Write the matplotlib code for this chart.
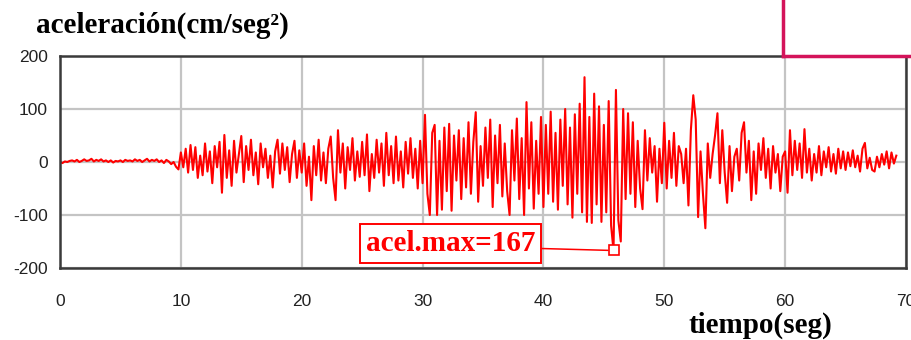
import numpy as np
import matplotlib
matplotlib.use("Agg")
import matplotlib.pyplot as plt
from matplotlib.lines import Line2D

plt.rcParams["axes.unicode_minus"] = False

# acelerograma, una muestra cada 0.2 seg
dt = 0.2
acel_00_10 = [0, -2, 1, 0, 2, 3, 1, 4, 0, 2, 5, 2, 3, 6, 1, 4, 2, 5, 1, 3,
              0, 3, -1, 2, 1, 3, 0, 4, 2, 3, 1, 5, 2, 4, 0, 3, 6, 1, 4, 2,
              5, 0, 3, -2, 4, 1, -4, 0, -9, -14]
acel_10_20 = [18, -10, 25, -20, 32, -15, 28, -30, 12, -25, 35, -18, 20, -40, 30,
              -10, 38, -58, 51, -30, 22, -45, 40, -20, 15, 49, -38, 30, -15, 42,
              -25, 18, -42, 35, -10, 25, -30, 12, -48, 20, 42, -22, 35, -15, 28,
              -38, 15, 40, -30, 22]
acel_20_30 = [-20, 35, -45, 10, -72, 30, -25, 42, -35, 18, -40, 25, 48, -30, -72,
              60, -20, 35, -50, 28, -15, 45, -35, 20, -28, 38, -25, 52, -55, 15,
              -30, 42, -20, 35, -45, 55, -25, 30, -40, 48, -35, 20, -48, 38, -22,
              45, -30, 25, -50, 40]
acel_30_40 = [-40, 89, -60, -100, 55, 70, -100, 40, -90, 65, -55, 72, -92, 50, -35,
              60, -70, 45, -48, 75, -60, 38, 94, -75, 30, -45, 65, -30, 80, -85,
              50, -40, 70, -65, 35, -55, -100, 60, -35, 82, -70, 45, -100, 113, -50,
              75, -88, 40, -60, 85]
acel_40_50 = [-85, 70, -60, 95, -75, 55, -90, 80, -45, 100, -80, 65, -105, 90, -60,
              110, -95, 160, -113, 85, -115, 129, -80, 105, -113, 70, -95, 115, -120, -167,
              136, -110, -150, 100, -70, 92, -60, 75, -85, 40, -50, -89, 60, -35, 45,
              -20, 30, -75, 25, -40]
acel_50_60 = [74, -50, 40, -30, 55, -45, 30, 15, -40, 25, -82, 60, 126, 80, -104,
              20, -60, -125, 35, -30, 15, 50, 92, -40, 60, -20, -77, 30, -55, 10,
              25, -35, 55, 75, -20, 40, -72, 20, -60, 35, -15, 45, -30, 25, -50,
              30, -20, 15, -55, 10]
acel_60_70 = [20, -58, 60, -25, 40, -15, 35, -30, 62, -20, 25, -35, 15, -20, 30,
              -25, 20, -10, 28, -18, 15, -22, 25, -12, 20, -15, 18, -8, 22, -10,
              12, -18, 25, 36, -12, 8, -15, -18, 10, -10, 15, -5, 20, -12, 18,
              -3, 12]

acel = np.array(acel_00_10 + acel_10_20 + acel_20_30 + acel_30_40
                + acel_40_50 + acel_50_60 + acel_60_70, dtype=float)
tiempo = np.arange(len(acel)) * dt

xticks = [0, 10, 20, 30, 40, 50, 60, 70]
yticks = [-200, -100, 0, 100, 200]

serif = ["Liberation Serif", "DejaVu Serif"]
sans = ["Liberation Sans", "DejaVu Sans"]

fig = plt.figure(figsize=(9.12, 3.40), dpi=100)
ax = fig.add_axes([0.0658, 0.2118, 0.9276, 0.6235])

ax.plot(tiempo, acel, color="#ff0000", lw=1.5)

ax.set_xlim(0, 70)
ax.set_ylim(-200, 200)
ax.set_xticks(xticks)
ax.set_yticks(yticks)
ax.grid(True, color="#c4c4c4", lw=1.6)
ax.set_axisbelow(True)
ax.tick_params(length=0, labelsize=12.5, colors="#222222")
ax.tick_params(axis="x", pad=19)
ax.tick_params(axis="y", pad=9)
for lab in ax.get_xticklabels() + ax.get_yticklabels():
    lab.set_family(sans)
for s in ax.spines.values():
    s.set_color("#3a3a3a")
    s.set_linewidth(1.8)

# maximo absoluto
i_max = int(np.argmax(np.abs(acel)))
t_max, a_max = tiempo[i_max], acel[i_max]
ax.plot(t_max, a_max, marker="s", ms=7, mfc="white", mec="#ff0000", mew=1.2, zorder=5)
ax.annotate(f"acel.max={int(abs(a_max))}", xy=(t_max, a_max),
            xytext=(-78, 7), textcoords="offset pixels", ha="right", va="center",
            color="#ff0000", fontsize=21, fontweight="bold", family=serif,
            bbox=dict(boxstyle="square,pad=0.2", fc="white", ec="#ff0000", lw=1.4),
            arrowprops=dict(arrowstyle="-", color="#ff0000", lw=1.1,
                            relpos=(1, 0.32), shrinkA=0, shrinkB=4))

fig.text(0.04, 0.925, "aceleración(cm/seg²)", fontsize=21, fontweight="bold",
         family=serif, va="center", ha="left")
fig.text(0.913, 0.044, "tiempo(seg)", fontsize=21, fontweight="bold",
         family=serif, va="center", ha="right")

# recuadro rosa arriba a la derecha
pink = "#d4145a"
fig.add_artist(Line2D([783 / 912, 783 / 912], [1.0, 1 - 56 / 340], color=pink, lw=2.5))
fig.add_artist(Line2D([783 / 912, 1.0], [1 - 56 / 340, 1 - 56 / 340], color=pink, lw=2.5))

fig.savefig("out.png", dpi=100)
